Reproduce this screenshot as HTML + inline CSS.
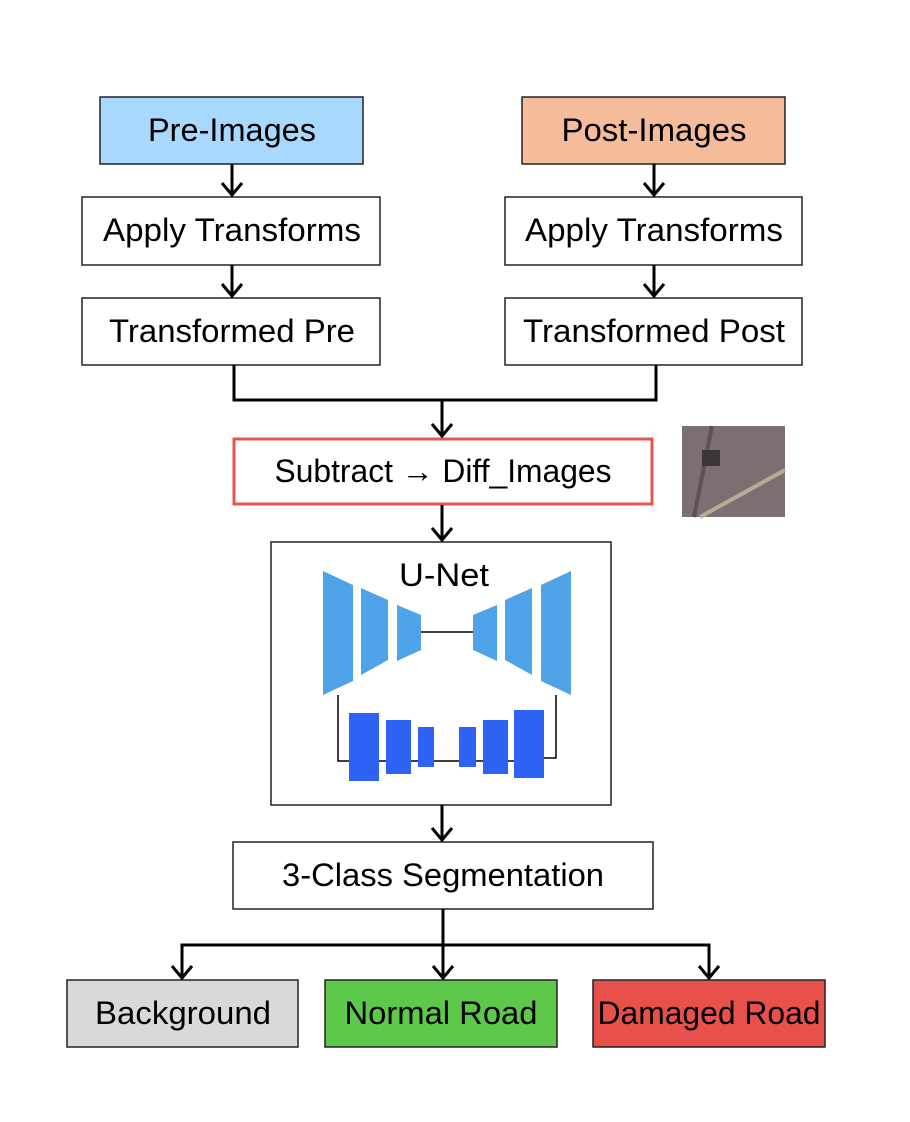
<!DOCTYPE html>
<html><head><meta charset="utf-8"><style>html,body{margin:0;padding:0;background:#fff}svg{display:block}</style></head>
<body>
<svg width="910" height="1122" viewBox="0 0 910 1122" xmlns="http://www.w3.org/2000/svg" font-family="Liberation Sans, sans-serif" font-size="32" fill="#000">
<g stroke="#222" stroke-width="1.5">
<rect x="100" y="97" width="263" height="67" fill="#a8d8fc"/>
<rect x="522" y="97" width="263" height="67" fill="#f4bc9a"/>
<rect x="82" y="197" width="298" height="68" fill="#fff"/>
<rect x="505" y="197" width="297" height="68" fill="#fff"/>
<rect x="82" y="298" width="298" height="67" fill="#fff"/>
<rect x="505" y="298" width="297" height="67" fill="#fff"/>
<rect x="271" y="542" width="340" height="263" fill="#fff"/>
<rect x="233" y="842" width="420" height="67" fill="#fff"/>
<rect x="67" y="980" width="231" height="67" fill="#d9d9d9"/>
<rect x="325" y="980" width="232" height="67" fill="#5dc84a"/>
<rect x="593" y="980" width="232" height="67" fill="#e8504a"/>
</g>
<rect x="234" y="439" width="418" height="65" fill="#fff" stroke="#e8554e" stroke-width="3"/>
<rect x="682" y="426" width="103" height="91" fill="#7d6e72"/>
<path d="M700 517 L785 470" stroke="#b8ab96" stroke-width="4"/>
<path d="M694 517 L712 426" stroke="#5a5258" stroke-width="4"/>
<rect x="702" y="450" width="18" height="16" fill="#3a3638"/>
<g fill="none" stroke="#000" stroke-width="3">
<path d="M232 164V195M222 183L232 195L242 183"/>
<path d="M654 164V195M644 183L654 195L664 183"/>
<path d="M232 265V296M222 284L232 296L242 284"/>
<path d="M654 265V296M644 284L654 296L664 284"/>
<path d="M234 365V400H656V365M442 400V436M432 424L442 436L452 424"/>
<path d="M442 505V540M432 528L442 540L452 528"/>
<path d="M442 805V840M432 828L442 840L452 828"/>
<path d="M443 909V978M182 978V945H709V978M172 966L182 978L192 966M433 966L443 978L453 966M699 966L709 978L719 966"/>
</g>
<g stroke="#000" stroke-width="1.5" fill="none">
<path d="M421 632H473"/>
<path d="M338 695V761H544M556 695V758H544"/>
</g>
<g fill="#4fa3e8">
<polygon points="323,571 353,585 353,681 323,695"/>
<polygon points="361,588 388,600 388,660 361,675"/>
<polygon points="397,605 421,615 421,650 397,661"/>
<polygon points="473,615 497,605 497,661 473,650"/>
<polygon points="505,600 532,588 532,675 505,660"/>
<polygon points="541,585 571,571 571,695 541,681"/>
</g>
<g fill="#2d62f5">
<rect x="349" y="713" width="30" height="68"/>
<rect x="386" y="720" width="25" height="54"/>
<rect x="418" y="727" width="16" height="40"/>
<rect x="459" y="727" width="17" height="40"/>
<rect x="483" y="720" width="25" height="54"/>
<rect x="514" y="710" width="30" height="68"/>
</g>
<g text-anchor="middle">
<text x="232" y="141" textLength="168" lengthAdjust="spacingAndGlyphs">Pre-Images</text>
<text x="654" y="141" textLength="185" lengthAdjust="spacingAndGlyphs">Post-Images</text>
<text x="232" y="241" textLength="258" lengthAdjust="spacingAndGlyphs">Apply Transforms</text>
<text x="654" y="241" textLength="258" lengthAdjust="spacingAndGlyphs">Apply Transforms</text>
<text x="232" y="342" textLength="246" lengthAdjust="spacingAndGlyphs">Transformed Pre</text>
<text x="654" y="342" textLength="262" lengthAdjust="spacingAndGlyphs">Transformed Post</text>
<text x="443" y="482" textLength="337" lengthAdjust="spacingAndGlyphs">Subtract → Diff_Images</text>
<text x="444" y="586" textLength="90" lengthAdjust="spacingAndGlyphs">U-Net</text>
<text x="443" y="886" textLength="322" lengthAdjust="spacingAndGlyphs">3-Class Segmentation</text>
<text x="183" y="1024" textLength="176" lengthAdjust="spacingAndGlyphs">Background</text>
<text x="441" y="1024" textLength="193" lengthAdjust="spacingAndGlyphs">Normal Road</text>
<text x="709" y="1024" textLength="223" lengthAdjust="spacingAndGlyphs">Damaged Road</text>
</g>
</svg>
</body></html>
